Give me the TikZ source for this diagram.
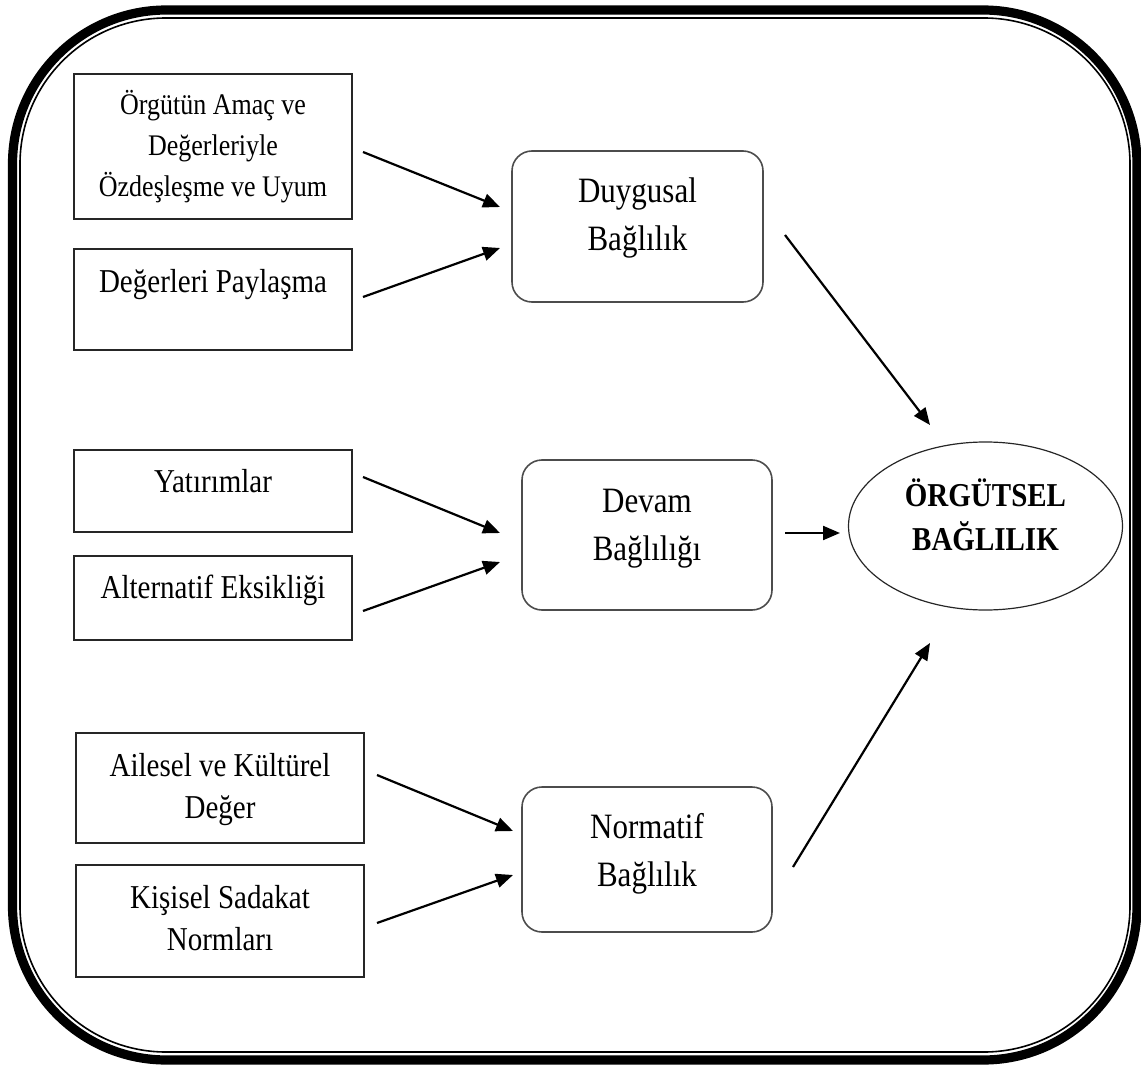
\documentclass[tikz,border=0pt]{standalone}
\usepackage{fontspec}
\usepackage{graphicx}
\setmainfont{Liberation Serif}
\usetikzlibrary{shapes.geometric,arrows.meta,calc}
\newcommand{\vtxt}[3]{\scalebox{1}[1.15]{\fontsize{#1}{#2}\selectfont\begin{tabular}{@{}c@{}}#3\end{tabular}}}
\begin{document}
\begin{tikzpicture}[x=0.5pt,y=-0.5pt,
  src/.style={draw=black!85,line width=0.75pt,inner sep=0pt,outer sep=0pt},
  rbox/.style={draw=black!70,line width=0.8pt,rounded corners=10pt,inner sep=0pt,outer sep=0pt,minimum width=125pt},
  lbl/.style={align=center,inner sep=0pt},
  arr/.style={line width=1.1pt,-{Triangle[length=8.5pt,width=7pt]}}]
\useasboundingbox (0,0) rectangle (1141,1065);
% outer frame
\draw[line width=4.6pt,rounded corners=77pt] (12.5,10) rectangle (1137,1060);
\draw[line width=0.8pt,rounded corners=73pt] (20,18) rectangle (1130,1052);
% source boxes
\node[src,minimum width=139pt,minimum height=72.5pt] (b1) at (213,146.5) {};
\node[src,minimum width=139pt,minimum height=50.5pt] (b2) at (213,299.5) {};
\node[src,minimum width=139pt,minimum height=41pt] (b3) at (213,491) {};
\node[src,minimum width=139pt,minimum height=42pt] (b4) at (213,598) {};
\node[src,minimum width=144pt,minimum height=55pt] (b5) at (220,788) {};
\node[src,minimum width=144pt,minimum height=56pt] (b6) at (220,921) {};
\node[lbl] (t1) at (213,147) {\vtxt{13pt}{17.9pt}{Örgütün Amaç ve\\Değerleriyle\\Özdeşleşme ve Uyum}};
\node[lbl] (t2) at (213,284) {\vtxt{14.5pt}{18.3pt}{Değerleri Paylaşma}};
\node[lbl] (t3) at (213,484) {\vtxt{14.5pt}{18.3pt}{Yatırımlar}};
\node[lbl] (t4) at (213,590) {\vtxt{14.5pt}{18.3pt}{Alternatif Eksikliği}};
\node[lbl] (t5) at (220,789) {\vtxt{14.5pt}{18.3pt}{Ailesel ve Kültürel\\Değer}};
\node[lbl] (t6) at (220,921) {\vtxt{14.5pt}{18.3pt}{Kişisel Sadakat\\Normları}};
% middle boxes
\node[rbox,minimum width=125.5pt,minimum height=75.5pt] (duy) at (637.5,226.5) {};
\node[rbox,minimum height=75pt] (dev) at (647,535) {};
\node[rbox,minimum height=72.5pt] (nor) at (647,859.5) {};
\node[lbl] (tduy) at (637.5,217) {\vtxt{15.5pt}{20.8pt}{Duygusal\\Bağlılık}};
\node[lbl] (tdev) at (647,527) {\vtxt{15.5pt}{20.8pt}{Devam\\Bağlılığı}};
\node[lbl] (tnor) at (647,853) {\vtxt{15.5pt}{20.8pt}{Normatif\\Bağlılık}};
% ellipse
\node[ellipse,draw=black!85,line width=0.6pt,minimum width=137pt,minimum height=84pt,inner sep=0pt,outer sep=0pt] (ell) at (985.5,526) {};
\node[lbl] (tell) at (985.5,520) {\vtxt{14.5pt}{19.2pt}{\bfseries ÖRGÜTSEL\\\bfseries BAĞLILIK}};
% arrows
\draw[arr] ($(b1.east)+(11,5.5)$) -- ($(duy.west)+(-12,-19.5)$);
\draw[arr] ($(b2.east)+(11,-2.5)$) -- ($(duy.west)+(-12,21.5)$);
\draw[arr] ($(b3.east)+(11,-14)$) -- ($(dev.west)+(-22,-2)$);
\draw[arr] ($(b4.east)+(11,13)$) -- ($(dev.west)+(-22,27)$);
\draw[arr] ($(b5.east)+(13,-13)$) -- ($(nor.west)+(-9,-28.5)$);
\draw[arr] ($(b6.east)+(13,2)$) -- ($(nor.west)+(-9,15.5)$);
\draw[arr] ($(duy.east)+(22,8.5)$) -- ($(ell.center)+(-55.5,-101)$);
\draw[arr] ($(dev.east)+(13,-2)$) -- ($(ell.west)+(-8.5,7)$);
\draw[arr] ($(nor.east)+(21,7.5)$) -- ($(ell.center)+(-55.5,117)$);
\end{tikzpicture}
\end{document}
